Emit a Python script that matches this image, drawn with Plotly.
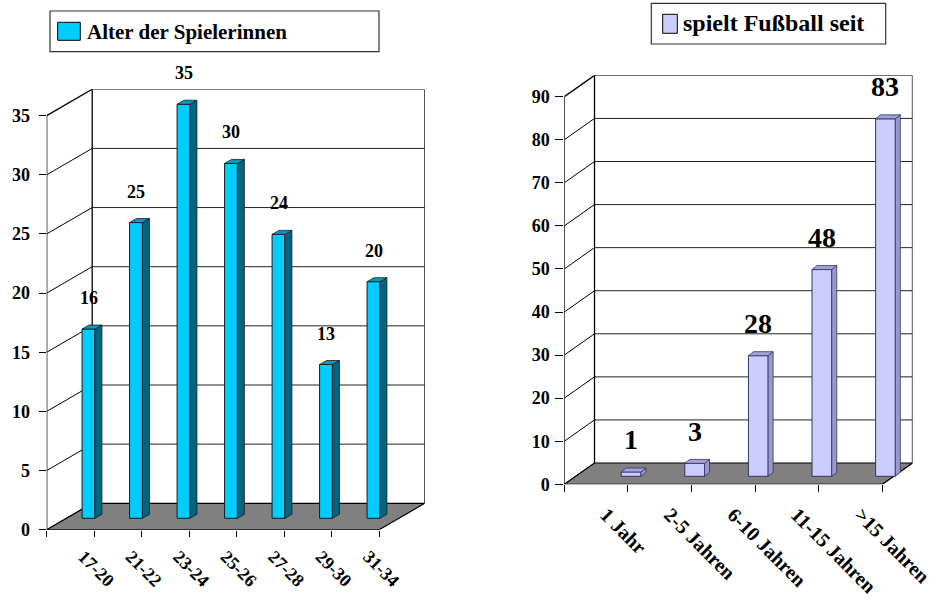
import numpy as np
import plotly.graph_objects as go

# ---- data -------------------------------------------------------------
age_groups = ["17-20", "21-22", "23-24", "25-26", "27-28", "29-30", "31-34"]
age_counts = [16, 25, 35, 30, 24, 13, 20]
age_ticks = [0, 5, 10, 15, 20, 25, 30, 35]

years_groups = ["1 Jahr", "2-5 Jahren", "6-10 Jahren", "11-15 Jahren", ">15 Jahren"]
years_counts = [1, 3, 28, 48, 83]
years_ticks = [0, 10, 20, 30, 40, 50, 60, 70, 80, 90]

W, H = 945, 610
FONT = "Liberation Serif"


def px_x(p):
    return p / W


def px_y(p):
    return 1 - p / H


# pseudo-3D layout of each panel (pixel geometry of the front plane + depth)
panels = [
    dict(cats=age_groups, vals=age_counts, ticks=age_ticks, xa="x", ya="y",
         x0=46.7, cat_px=47.5, y0=529.7, unit_px=11.83, depth_dx=45.5, depth_dy=26.4,
         bar_shift=0.38, bar_w=0.27, bar_base_px=11.4, side_dx=7, side_dy=4,
         face="#00CCFF", side="#006680", top="#0099C4", edge="#1a1a1a",
         label_size=18, label_shift=31, xtick_size=18, ytick_size=18,
         xticklen=6, yticklen=7, xlab_shift=13, xlab_off=12, ylab_off=5),
    dict(cats=years_groups, vals=years_counts, ticks=years_ticks, xa="x2", ya="y2",
         x0=564.3, cat_px=63.6, y0=484.3, unit_px=4.307, depth_dx=30.2, depth_dy=21.3,
         bar_shift=0.55, bar_w=0.31, bar_base_px=8.0, side_dx=5, side_dy=4,
         face="#CCCCFF", side="#9999CC", top="#A3A3D6", edge="#333366",
         label_size=28, label_shift=32, xtick_size=20, ytick_size=18,
         xticklen=7, yticklen=8, xlab_shift=10, xlab_off=14, ylab_off=2),
]

fig = go.Figure()
shapes = []
annotations = []
layout_axes = {}

for k, p in enumerate(panels):
    n = len(p["cats"])
    ymax = max(p["ticks"])
    dxc = p["depth_dx"] / p["cat_px"]          # depth offset in category units
    dyu = p["depth_dy"] / p["unit_px"]         # depth offset in value units
    xr = [-0.5, n - 0.5 + dxc]
    yr = [0, ymax + dyu]
    dom_x = [px_x(p["x0"]), px_x(p["x0"] + p["cat_px"] * (xr[1] - xr[0]))]
    dom_y = [px_y(p["y0"]), px_y(p["y0"] - p["unit_px"] * yr[1])]
    xref, yref = p["xa"], p["ya"]

    # back wall gridlines, side wall diagonals
    for v in p["ticks"]:
        if v > 0:
            shapes.append(dict(type="line", xref=xref, yref=yref, layer="below",
                               x0=-0.5 + dxc, x1=n - 0.5 + dxc, y0=v + dyu, y1=v + dyu,
                               line=dict(color="#222222", width=1)))
        shapes.append(dict(type="line", xref=xref, yref=yref, layer="below",
                           x0=-0.5, x1=-0.5 + dxc, y0=v, y1=v + dyu,
                           line=dict(color="#000000", width=1.3 if v == ymax else 1)))
    # wall verticals
    for xv in (-0.5 + dxc, n - 0.5 + dxc):
        shapes.append(dict(type="line", xref=xref, yref=yref, layer="below",
                           x0=xv, x1=xv, y0=dyu, y1=ymax + dyu,
                           line=dict(color="#000000", width=1.3)))

    # floor (below the bars)
    fpath = "M {} {} L {} {} L {} {} L {} {} Z".format(
        -0.5, 0, n - 0.5, 0, n - 0.5 + dxc, dyu, -0.5 + dxc, dyu)
    shapes.append(dict(type="path", xref=xref, yref=yref, layer="below", path=fpath,
                       fillcolor="#808080", line=dict(color="#000000", width=1.2)))

    # front value axis
    shapes.append(dict(type="line", xref=xref, yref=yref, layer="above",
                       x0=-0.5, x1=-0.5, y0=0, y1=ymax,
                       line=dict(color="#000000", width=1.3)))

    # bars: front faces
    idx = np.arange(n)
    xc = idx + p["bar_shift"]
    base = p["bar_base_px"] / p["unit_px"]
    vals = np.array(p["vals"], dtype=float)
    fig.add_trace(go.Bar(x=xc, y=vals, base=base, width=p["bar_w"],
                         xaxis=xref, yaxis=yref,
                         marker=dict(color=p["face"], line=dict(color=p["edge"], width=1)),
                         hoverinfo="skip", showlegend=False))

    # bars: side and top faces
    sdx = p["side_dx"] / p["cat_px"]
    sdy = p["side_dy"] / p["unit_px"]
    side_x, side_y, top_x, top_y = [], [], [], []
    for c, v in zip(xc, vals):
        xl, xrr = c - p["bar_w"] / 2, c + p["bar_w"] / 2
        t = base + v
        side_x += [xrr, xrr + sdx, xrr + sdx, xrr, xrr, None]
        side_y += [base, base + sdy, t + sdy, t, base, None]
        top_x += [xl, xrr, xrr + sdx, xl + sdx, xl, None]
        top_y += [t, t, t + sdy, t + sdy, t, None]
    fig.add_trace(go.Scatter(x=side_x, y=side_y, xaxis=xref, yaxis=yref, mode="lines",
                             fill="toself", fillcolor=p["side"],
                             line=dict(color=p["edge"], width=0.8),
                             hoverinfo="skip", showlegend=False))
    fig.add_trace(go.Scatter(x=top_x, y=top_y, xaxis=xref, yaxis=yref, mode="lines",
                             fill="toself", fillcolor=p["top"],
                             line=dict(color=p["edge"], width=0.8),
                             hoverinfo="skip", showlegend=False))

    # value labels
    for c, v in zip(xc, p["vals"]):
        annotations.append(dict(x=c, y=base + v, xref=xref, yref=yref, text=str(v),
                                showarrow=False, yanchor="middle", yshift=p["label_shift"],
                                font=dict(family=FONT, size=p["label_size"],
                                          color="#000000", weight=700)))

    axn = "" if k == 0 else str(k + 1)
    layout_axes["xaxis" + axn] = dict(
        domain=dom_x, range=xr, anchor=yref, showgrid=False, zeroline=False,
        showline=False, automargin=False, tickmode="array", tickvals=list(idx),
        ticktext=p["cats"], ticks="", tickangle=45,
        ticklabelshift=p["xlab_shift"], ticklabelstandoff=p["xlab_off"],
        tickfont=dict(family=FONT, size=p["xtick_size"], color="#000000", weight=700),
        minor=dict(tickmode="array", tickvals=list(np.arange(n + 1) - 0.5),
                   ticks="outside", ticklen=p["xticklen"], tickcolor="#000000",
                   tickwidth=1, showgrid=False),
        fixedrange=True)
    layout_axes["yaxis" + axn] = dict(
        domain=dom_y, range=yr, anchor=xref, showgrid=False, zeroline=False,
        showline=False, automargin=False, tickmode="array", tickvals=p["ticks"],
        ticks="outside", ticklen=p["yticklen"], tickcolor="#000000", tickwidth=1,
        ticklabelstandoff=p["ylab_off"],
        tickfont=dict(family=FONT, size=p["ytick_size"], color="#000000", weight=700),
        fixedrange=True)

# legend boxes
legends = [
    dict(box=(50, 11, 379, 51.7), sw=(57.7, 22.3, 80.3, 40.3), color="#00CCFF",
         text="Alter der Spielerinnen", tx=85, ty=31.5, size=21),
    dict(box=(651.3, 3.3, 885.7, 44), sw=(662.7, 14.3, 677.3, 33.3), color="#CCCCFF",
         text="spielt Fußball seit", tx=681, ty=23.5, size=24),
]
for lg in legends:
    x0, y0, x1, y1 = lg["box"]
    shapes.append(dict(type="rect", xref="paper", yref="paper",
                       x0=px_x(x0), x1=px_x(x1), y0=px_y(y0), y1=px_y(y1),
                       line=dict(color="#333333", width=1.2), fillcolor="#FFFFFF"))
    x0, y0, x1, y1 = lg["sw"]
    shapes.append(dict(type="rect", xref="paper", yref="paper",
                       x0=px_x(x0), x1=px_x(x1), y0=px_y(y0), y1=px_y(y1),
                       line=dict(color="#000000", width=1), fillcolor=lg["color"]))
    annotations.append(dict(x=px_x(lg["tx"]), y=px_y(lg["ty"]), xref="paper", yref="paper",
                            text=lg["text"], showarrow=False, xanchor="left",
                            yanchor="middle",
                            font=dict(family=FONT, size=lg["size"], color="#000000",
                                      weight=700)))

fig.update_layout(
    width=W, height=H, margin=dict(l=0, r=0, t=0, b=0),
    paper_bgcolor="#FFFFFF", plot_bgcolor="#FFFFFF",
    showlegend=False, hovermode=False, barmode="overlay",
    shapes=shapes, annotations=annotations, **layout_axes)

fig.write_html("out.html")
